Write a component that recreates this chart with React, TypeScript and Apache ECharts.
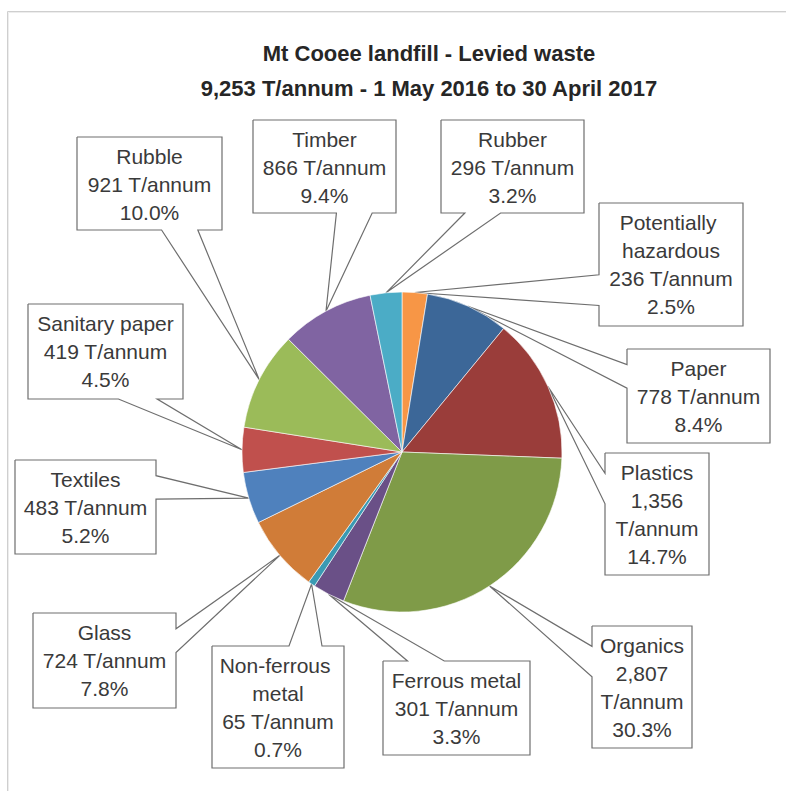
import React, { useEffect, useRef } from "react";
import * as echarts from "echarts";

// ---- data (clockwise from 12 o'clock) ----
const categories = [
  "Potentially hazardous",
  "Paper",
  "Plastics",
  "Organics",
  "Ferrous metal",
  "Non-ferrous metal",
  "Glass",
  "Textiles",
  "Sanitary paper",
  "Rubble",
  "Timber",
  "Rubber",
];
const tonnesPerAnnum = [236, 778, 1356, 2807, 301, 65, 724, 483, 419, 921, 866, 296];
const percentShares = [2.5, 8.4, 14.7, 30.3, 3.3, 0.7, 7.8, 5.2, 4.5, 10.0, 9.4, 3.2];
const titleLines = [
  "Mt Cooee landfill - Levied waste",
  "9,253 T/annum - 1 May 2016 to 30 April 2017",
];

// ---- styles / layout ----
const sliceColors = [
  "#F79646", "#3C6798", "#9A3D3A", "#7F9B48", "#6A5087", "#3A9AB3",
  "#D07C38", "#4F81BD", "#C0504D", "#9BBB59", "#8064A2", "#4BACC6",
];
// callout boxes: [left, top, width, height] in page px
const calloutBoxes = [
  [599, 203, 144, 123],
  [627, 349, 143, 94],
  [605, 453, 104, 122],
  [592, 626, 100, 122],
  [383, 661, 147, 94],
  [212, 646, 132, 122],
  [33, 613, 143, 95],
  [15, 460, 141, 94],
  [28, 304, 155, 95],
  [77, 137, 145, 93],
  [253, 120, 143, 93],
  [441, 120, 143, 93],
];
const calloutSides = [
  "left", "left", "left", "left", "top", "top",
  "right", "right", "bottom", "bottom", "bottom", "bottom",
];
const PIE_CENTER = [402, 452];
const PIE_RADIUS = 160;
const FONT = "'Liberation Sans', Arial, sans-serif";
const LABEL_SIZE = 21;

let measureCtx: CanvasRenderingContext2D | null = null;
function textWidth(s: string) {
  if (!measureCtx) measureCtx = document.createElement("canvas").getContext("2d");
  if (!measureCtx) return s.length * LABEL_SIZE * 0.55;
  measureCtx.font = `${LABEL_SIZE}px ${FONT}`;
  return measureCtx.measureText(s).width;
}

function calloutOutline(L: number, T: number, W: number, H: number, P: number[], side: string) {
  const R = L + W;
  const B = T + H;
  const near = [1 / 6, 5 / 12];
  const far = [7 / 12, 5 / 6];
  const cx = L + W / 2;
  const cy = T + H / 2;
  const pts: number[][] = [[L, T]];
  if (side === "top") {
    const f = P[0] < cx ? near : far;
    pts.push([L + f[0] * W, T], [P[0], P[1]], [L + f[1] * W, T]);
  }
  pts.push([R, T]);
  if (side === "right") {
    const f = P[1] < cy ? near : far;
    pts.push([R, T + f[0] * H], [P[0], P[1]], [R, T + f[1] * H]);
  }
  pts.push([R, B]);
  if (side === "bottom") {
    const f = P[0] < cx ? near : far;
    pts.push([L + f[1] * W, B], [P[0], P[1]], [L + f[0] * W, B]);
  }
  pts.push([L, B]);
  if (side === "left") {
    const f = P[1] < cy ? near : far;
    pts.push([L, T + f[1] * H], [P[0], P[1]], [L, T + f[0] * H]);
  }
  pts.push([L, T]);
  return pts;
}

export default function App() {
  const ref = useRef<HTMLDivElement>(null);
  useEffect(() => {
    if (!ref.current) return;
    const chart = echarts.init(ref.current, null, { renderer: "svg" });
    const total = tonnesPerAnnum.reduce((a, b) => a + b, 0);

    const data = categories.map((name, i) => ({
      name,
      value: tonnesPerAnnum[i],
      itemStyle: { color: sliceColors[i] },
      label: { width: calloutBoxes[i][2] - 10 },
    }));

    const option: any = {
      animation: false,
      backgroundColor: "#ffffff",
      graphic: [
        {
          type: "rect",
          shape: { x: 7.5, y: 11.5, width: 1000, height: 1000 },
          style: { fill: "none", stroke: "#CFCFCF", lineWidth: 1 },
          silent: true,
        },
        {
          type: "rect",
          shape: { x: 8.5, y: 12.5, width: 1000, height: 1000 },
          style: { fill: "none", stroke: "#EDEDED", lineWidth: 1 },
          silent: true,
        },
        ...titleLines.map((t, i) => ({
          type: "text",
          x: 429,
          y: 53 + i * 35,
          style: {
            text: t,
            fill: "#262626",
            font: `bold 22px ${FONT}`,
            textAlign: "center",
            textVerticalAlign: "middle",
          },
        })),
      ],
      series: [
        {
          type: "pie",
          center: PIE_CENTER,
          radius: PIE_RADIUS,
          startAngle: 90,
          clockwise: true,
          avoidLabelOverlap: false,
          itemStyle: { borderColor: "#ffffff", borderWidth: 0.6 },
          emphasis: { disabled: true },
          label: {
            show: true,
            position: "outside",
            color: "#3A3A3A",
            fontFamily: FONT,
            fontSize: LABEL_SIZE,
            lineHeight: 28,
            align: "center",
            overflow: "break",
            formatter: (p: any) => {
              const i = p.dataIndex;
              const num = Number(p.value).toLocaleString("en-US");
              const valueLine = `${num} T/annum`;
              const fits = textWidth(valueLine) <= calloutBoxes[i][2] - 10;
              const vText = fits ? valueLine : `${num}\nT/annum`;
              return `${p.name}\n${vText}\n${percentShares[i].toFixed(1)}%`;
            },
          },
          labelLine: {
            show: true,
            smooth: false,
            length: 10,
            length2: 10,
            lineStyle: { color: "#6E6E6E", width: 1.2 },
          },
          labelLayout: (params: any) => {
            const i = params.dataIndex;
            const [L, T, W, H] = calloutBoxes[i];
            let P: number[];
            if (params.labelLinePoints && params.labelLinePoints[0]) {
              P = params.labelLinePoints[0];
            } else {
              let cum = 0;
              for (let k = 0; k < i; k++) cum += tonnesPerAnnum[k];
              const mid = ((cum + tonnesPerAnnum[i] / 2) / total) * Math.PI * 2;
              P = [PIE_CENTER[0] + PIE_RADIUS * Math.sin(mid), PIE_CENTER[1] - PIE_RADIUS * Math.cos(mid)];
            }
            return {
              x: L + W / 2,
              y: T + 5,
              align: "center",
              verticalAlign: "top",
              width: W - 10,
              labelLinePoints: calloutOutline(L, T, W, H, P, calloutSides[i]),
            };
          },
          data,
        },
      ],
    };
    chart.setOption(option);
    return () => chart.dispose();
  }, []);
  return (
    <div
      ref={ref}
      style={{ position: "absolute", left: 0, top: 0, width: 786, height: 791 }}
    />
  );
}
